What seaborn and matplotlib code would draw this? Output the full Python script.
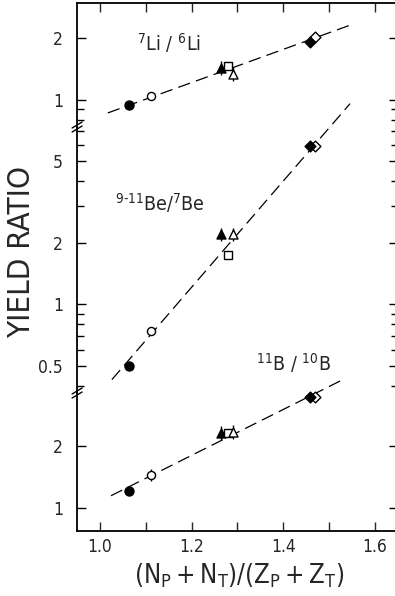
import matplotlib
matplotlib.use("Agg")
import matplotlib.pyplot as plt
from matplotlib.lines import Line2D
from matplotlib.ticker import NullFormatter
import seaborn as sns

# Reaction systems, identified by their plotting symbol
systems = ["filled_circle", "open_circle", "filled_triangle", "open_square",
           "open_triangle", "open_diamond", "filled_diamond"]
neutron_ratio = [1.063, 1.111, 1.264, 1.279, 1.291, 1.470, 1.459]

# Isotopic yield ratios per system
li_ratio = [0.946, 1.05, 1.43, 1.46, 1.34, 2.03, 1.92]
be_ratio = [0.50, 0.74, 2.19, 1.73, 2.19, 5.92, 5.92]
b_ratio = [1.213, 1.446, 2.32, 2.32, 2.34, 3.47, 3.45]

# Relative uncertainties (0 = smaller than the symbol)
li_err = [0, 0, 0.08, 0, 0.08, 0, 0]
be_err = [0, 0, 0.08, 0, 0.08, 0, 0]
b_err = [0, 0.07, 0.08, 0, 0.08, 0, 0]

# Exponential trend lines (end points)
li_fit_x, li_fit_y = [1.017, 1.553], [0.865, 2.34]
be_fit_x, be_fit_y = [1.026, 1.546], [0.43, 9.5]
b_fit_x, b_fit_y = [1.024, 1.528], [1.147, 4.18]

x_major = [1.0, 1.1, 1.2, 1.3, 1.4, 1.5, 1.6]
x_labels = ["1.0", "", "1.2", "", "1.4", "", "1.6"]

styles = {
    "filled_circle": dict(marker="o", s=42, fc="black"),
    "open_circle": dict(marker="o", s=34, fc="white"),
    "filled_triangle": dict(marker="^", s=42, fc="black"),
    "open_square": dict(marker="s", s=36, fc="white"),
    "open_triangle": dict(marker="^", s=42, fc="white"),
    "open_diamond": dict(marker="D", s=30, fc="white"),
    "filled_diamond": dict(marker="D", s=30, fc="black"),
}

sns.set_theme(style="ticks")
plt.rcParams["font.family"] = ["DejaVu Sans"]
plt.rcParams["font.stretch"] = "condensed"
plt.rcParams["mathtext.default"] = "regular"

W, H = 395, 596
fig = plt.figure(figsize=(W / 100, H / 100), dpi=100)

xlim = (0.95, 1.65)
left = 77.1 / W
width = (xlim[1] - xlim[0]) * 458 / W


def panel(top_px, bot_px):
    return fig.add_axes([left, 1 - bot_px / H, width, (bot_px - top_px) / H])


ax_li = panel(3, 127)
ax_be = panel(127, 393)
ax_b = panel(393, 531)

panels = [
    (ax_li, li_ratio, li_err, li_fit_x, li_fit_y, (0.739, 2.96), [1, 2], [0.8, 0.9]),
    (ax_be, be_ratio, be_err, be_fit_x, be_fit_y, (0.37, 7.31), [0.5, 1, 2, 5],
     [0.4, 0.6, 0.7, 0.8, 0.9, 3, 4, 6, 7]),
    (ax_b, b_ratio, b_err, b_fit_x, b_fit_y, (0.773, 3.62), [1, 2], [3]),
]

for ax, vals, errs, fx, fy, ylim, major, minor in panels:
    ax.set_facecolor("none")
    ax.set_yscale("log")
    ax.set_xlim(*xlim)
    ax.set_ylim(*ylim)

    sns.lineplot(x=fx, y=fy, ax=ax, color="black", lw=0.9,
                 dashes=False, clip_on=False, zorder=2)
    ax.lines[-1].set_dashes((10, 5))

    for name, x, y, e in zip(systems, neutron_ratio, vals, errs):
        if e > 0:
            ax.errorbar([x], [y], yerr=[[y - y / (1 + e)], [y * e]], fmt="none",
                        ecolor="black", elinewidth=1.0, capsize=0,
                        clip_on=False, zorder=3)
    for i, (name, x, y) in enumerate(zip(systems, neutron_ratio, vals)):
        st = styles[name]
        sns.scatterplot(x=[x], y=[y], ax=ax, marker=st["marker"], s=st["s"],
                        color=st["fc"], edgecolor="black", linewidth=1.0,
                        clip_on=False, zorder=4 + i, legend=False)

    ax.set_yticks(major)
    ax.set_yticklabels(["%g" % v for v in major])
    ax.set_yticks(minor, minor=True)
    ax.yaxis.set_minor_formatter(NullFormatter())
    ax.tick_params(axis="y", which="both", direction="in", left=True, right=True,
                   width=1.0, color="black", pad=10, labelsize=12.5)
    ax.tick_params(axis="y", which="major", length=6.5)
    ax.tick_params(axis="y", which="minor", length=5)
    ax.set_xlabel("")
    ax.set_ylabel("")
    for sp in ax.spines.values():
        sp.set_linewidth(1.3)
        sp.set_color("black")
    ax.spines["top"].set_visible(ax is ax_li)
    ax.spines["bottom"].set_visible(ax is ax_b)
    ax.spines["right"].set_visible(False)

# x ticks: inward on top of the upper panel and bottom of the lower panel
ax_li.set_xticks(x_major)
ax_li.tick_params(axis="x", which="both", direction="in", top=True, bottom=False,
                  labeltop=False, labelbottom=False, length=6.5, width=1.0)
ax_be.set_xticks([])
ax_be.tick_params(axis="x", which="both", bottom=False, top=False)
ax_b.set_xticks(x_major)
ax_b.set_xticklabels(x_labels)
ax_b.tick_params(axis="x", which="both", direction="in", top=False, bottom=True,
                 length=6.5, width=1.0, pad=5, labelsize=12.5)
ax_b.minorticks_off()
ax_li.xaxis.set_minor_locator(plt.NullLocator())

# isotope labels
ax_li.text(1.08, 1.89, r"$\mathregular{^{7}Li\ /\ ^{6}Li}$", fontsize=14,
           ha="left", va="center")
ax_be.text(1.033, 3.1, r"$\mathregular{^{9\text{-}11}Be/^{7}Be}$", fontsize=14,
           ha="left", va="center")
ax_be.text(1.341, 0.515, r"$\mathregular{^{11}B\ /\ ^{10}B}$", fontsize=14,
           ha="left", va="center")

# axis break marks on the left spine
for yb in (127, 393):
    for dy in (-2, 2):
        fig.add_artist(Line2D([(77.1 - 5) / W, (77.1 + 5) / W],
                              [1 - (yb + dy + 3) / H, 1 - (yb + dy - 3) / H],
                              color="black", lw=1.0, transform=fig.transFigure))

fig.text(21.5 / W, 1 - 252 / H, "YIELD RATIO", rotation=90, fontsize=22.5,
         ha="center", va="center")
fig.text(239 / W, 1 - 576 / H, r"$\mathregular{(N_P+N_T)/(Z_P+Z_T)}$",
         fontsize=18.5, ha="center", va="center")

fig.savefig("out.png", dpi=100)
